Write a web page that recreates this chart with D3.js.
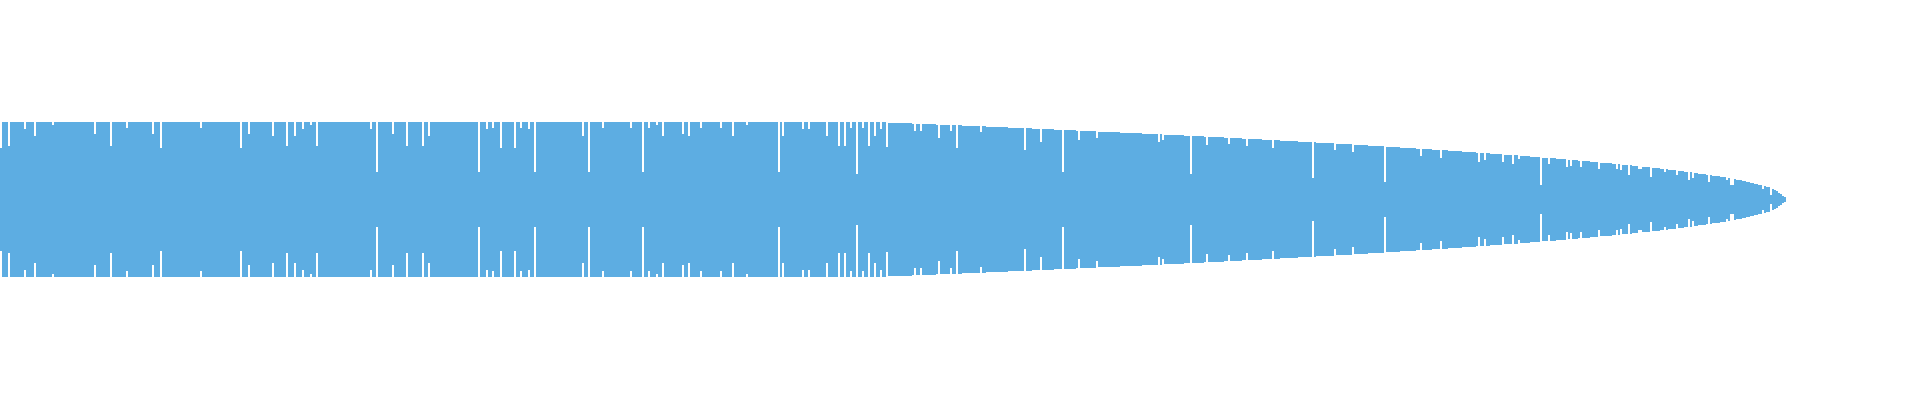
<!DOCTYPE html>
<html>
<head>
<meta charset="utf-8">
<script src="https://cdn.jsdelivr.net/npm/d3@7"></script>
<style>
  html, body { margin: 0; padding: 0; background: #ffffff; }
  svg { display: block; }
</style>
</head>
<body>
<svg id="chart" width="1920" height="400"></svg>
<script>
// Bar values (one per bar, left to right)
const values = [
52,78,78,78,54,78,78,78,78,78,78,78,71,78,78,78,78,64,78,78,
78,78,78,78,78,78,75,78,78,78,78,78,78,78,78,78,78,78,78,78,
78,78,78,78,78,78,78,66,78,78,78,78,78,78,78,54,78,78,78,78,
78,78,78,72,78,78,78,78,78,78,78,78,78,78,78,78,66,78,78,78,
52,78,78,78,78,78,78,78,78,78,78,78,78,78,78,78,78,78,78,78,
72,78,78,78,78,78,78,78,78,78,78,78,78,78,78,78,78,78,78,78,
52,78,78,78,66,78,78,78,78,78,78,78,78,78,78,78,64,78,78,78,
78,78,78,54,78,78,78,64,78,78,78,71,78,78,78,75,78,78,54,78,
78,78,78,78,78,78,78,78,78,78,78,78,78,78,78,78,78,78,78,78,
78,78,78,78,78,71,78,78,28,78,78,78,78,78,78,78,66,78,78,78,
78,78,78,54,78,78,78,78,78,78,78,54,78,78,64,78,78,78,78,78,
78,78,78,78,78,78,78,78,78,78,78,78,78,78,78,78,78,78,78,28,
78,78,78,71,78,78,72,78,78,78,52,78,78,78,78,78,78,52,78,78,
72,78,78,78,71,78,78,28,78,78,78,78,78,78,78,78,78,78,78,78,
78,78,78,78,78,78,78,78,78,78,78,64,78,78,28,78,78,78,78,78,
78,72,78,78,78,78,78,78,78,78,78,78,78,78,78,72,78,78,78,78,
78,28,78,78,72,78,78,78,75,78,78,64,78,78,78,78,78,78,78,78,
78,66,78,78,64,78,78,78,78,78,72,78,78,78,78,78,78,78,78,78,
72,78,78,78,78,78,64,78,78,78,78,78,78,75,78,78,78,78,78,78,
78,78,78,78,78,78,78,78,78,28,78,64,78,78,78,78,78,78,78,78,
78,71,78,78,71,78,78,78,78,78,78,78,78,64,78,78,78,78,78,54,
78,78,54,78,78,72,78,78,26,78,78,72,78,78,54,78,78,64,78,78,
71,78,78,53,77,77,77,77,77,77,77,77,77,77,77,77,76,69,76,76,
69,76,76,76,76,76,76,76,75,62,75,75,75,75,75,69,75,75,52,75,
75,74,74,74,74,74,74,74,74,74,68,74,74,73,73,73,73,73,73,73,
73,73,73,73,72,72,72,72,72,72,72,72,50,72,72,72,71,71,71,71,
58,71,71,71,71,71,71,70,70,70,70,28,70,70,70,70,70,70,69,60,
69,69,69,69,69,69,69,69,62,68,68,68,68,68,68,68,68,68,68,68,
67,67,67,67,67,67,67,67,67,67,67,66,66,66,66,66,66,66,66,58,
66,60,65,65,65,65,65,65,65,65,65,65,64,64,64,26,64,64,64,64,
64,64,63,55,63,63,63,63,63,63,63,63,62,62,56,62,62,62,62,62,
62,61,61,54,61,61,61,61,61,61,61,60,60,60,60,60,52,60,60,60,
59,59,59,59,59,59,59,59,59,58,58,58,58,58,58,58,22,58,57,57,
57,57,57,57,57,57,57,50,56,56,56,56,56,56,56,56,48,55,55,55,
55,55,55,55,54,54,54,54,54,54,54,54,18,53,53,53,53,53,53,53,
52,52,52,52,52,52,52,52,51,51,44,51,51,51,51,51,50,50,50,50,
42,50,50,50,49,49,49,49,49,49,49,48,48,48,48,48,48,48,47,38,
47,47,40,47,47,46,46,46,46,46,46,38,45,45,45,45,36,45,45,41,
44,44,44,44,44,43,43,43,43,43,15,42,42,42,36,42,42,42,41,41,
41,41,41,33,40,34,40,40,40,39,33,39,39,39,39,38,38,38,38,31,
37,37,37,37,37,37,36,36,31,36,30,35,35,35,25,35,34,34,34,31,
31,33,33,33,33,23,32,32,32,32,31,31,28,31,30,30,30,30,25,29,
29,29,28,28,20,28,22,27,27,26,26,26,26,25,18,25,24,24,24,24,
23,23,23,20,22,15,15,21,20,20,20,19,19,18,18,17,17,16,16,15,
15,11,14,13,13,5,11,10,9,7,6,4,3
];
const categories = values.map((_, i) => i);
const valueMax = 78;
const barColor = "#5dade2";

const svg = d3.select("#chart");
const centerY = 199.5;

const x = d3.scaleBand()
  .domain(categories)
  .range([0, 1786])
  .padding(0);

// half-height scale (bars are centered vertically)
const h = d3.scaleLinear()
  .domain([0, valueMax])
  .range([0, 77.5]);

svg.append("g")
  .attr("shape-rendering", "crispEdges")
  .selectAll("rect")
  .data(values)
  .join("rect")
  .attr("x", (d, i) => x(categories[i]))
  .attr("width", x.bandwidth())
  .attr("y", d => centerY - h(d))
  .attr("height", d => 2 * h(d))
  .attr("fill", barColor);
</script>
</body>
</html>
